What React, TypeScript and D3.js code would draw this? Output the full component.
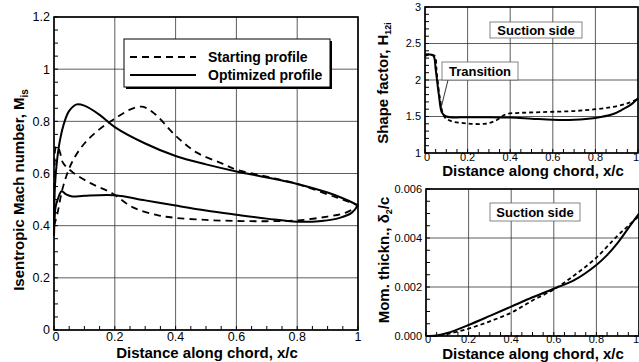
import React from "react";
import * as d3 from "d3";

type Pt = [number, number];

// axis ticks
const xTicks = [0, 0.2, 0.4, 0.6, 0.8, 1];
const xTickLabels = ["0", "0.2", "0.4", "0.6", "0.8", "1"];
const machTicks = [0, 0.2, 0.4, 0.6, 0.8, 1, 1.2];
const machTickLabels = ["0", "0.2", "0.4", "0.6", "0.8", "1", "1.2"];
const shapeTicks = [1, 1.5, 2, 2.5, 3];
const shapeTickLabels = ["1", "1.5", "2", "2.5", "3"];
const thetaTicks = [0, 0.002, 0.004, 0.006];
const thetaTickLabels = ["0.000", "0.002", "0.004", "0.006"];
const legendLabels = ["Starting profile", "Optimized profile"];

// isentropic Mach number, optimized profile (solid)
const optSuction: Pt[] = [
  [0, 0.36], [0.003, 0.55], [0.01, 0.65], [0.02, 0.73], [0.035, 0.8], [0.05, 0.84],
  [0.075, 0.865], [0.1, 0.86], [0.15, 0.825], [0.2, 0.778], [0.3, 0.715], [0.4, 0.667],
  [0.5, 0.635], [0.6, 0.608], [0.7, 0.585], [0.8, 0.56], [0.9, 0.527], [0.95, 0.505], [1.0, 0.478],
];
const optPressure: Pt[] = [
  [0, 0.36], [0.005, 0.47], [0.012, 0.5], [0.025, 0.532], [0.04, 0.52], [0.06, 0.512],
  [0.1, 0.515], [0.2, 0.517], [0.3, 0.497], [0.4, 0.477], [0.5, 0.458], [0.6, 0.442],
  [0.7, 0.427], [0.8, 0.415], [0.88, 0.418], [0.94, 0.43], [0.98, 0.45], [1.0, 0.478],
];
// isentropic Mach number, starting profile (dashed)
const startSuction: Pt[] = [
  [0, 0.4], [0.01, 0.44], [0.03, 0.55], [0.06, 0.645], [0.1, 0.715], [0.15, 0.77],
  [0.2, 0.81], [0.25, 0.845], [0.29, 0.856], [0.33, 0.83], [0.4, 0.745], [0.47, 0.68],
  [0.55, 0.64], [0.6, 0.615], [0.7, 0.588], [0.8, 0.56], [0.9, 0.52], [0.95, 0.5], [1.0, 0.478],
];
const startPressure: Pt[] = [
  [0, 0.4], [0.002, 0.6], [0.006, 0.7], [0.012, 0.705], [0.02, 0.68], [0.03, 0.64],
  [0.06, 0.606], [0.12, 0.563], [0.19, 0.525], [0.26, 0.47], [0.34, 0.44], [0.4, 0.43],
  [0.5, 0.422], [0.6, 0.418], [0.7, 0.417], [0.8, 0.42], [0.9, 0.435], [0.96, 0.45], [1.0, 0.475],
];

// shape factor H12i, suction side
const optShape: Pt[] = [
  [0, 2.35], [0.02, 2.35], [0.04, 2.33], [0.05, 2.15], [0.065, 1.8], [0.08, 1.55],
  [0.1, 1.5], [0.2, 1.49], [0.3, 1.49], [0.4, 1.485], [0.5, 1.47], [0.6, 1.455],
  [0.7, 1.455], [0.8, 1.48], [0.88, 1.53], [0.93, 1.6], [0.97, 1.67], [1.0, 1.75],
];
const startShape: Pt[] = [
  [0, 2.33], [0.02, 2.35], [0.045, 2.33], [0.055, 2.1], [0.07, 1.75], [0.09, 1.5],
  [0.12, 1.44], [0.2, 1.405], [0.28, 1.4], [0.33, 1.44], [0.38, 1.53], [0.45, 1.55],
  [0.55, 1.56], [0.7, 1.575], [0.8, 1.6], [0.88, 1.63], [0.95, 1.68], [1.0, 1.74],
];

// momentum thickness, suction side
const optTheta: Pt[] = [
  [0, 0], [0.05, 0.00002], [0.1, 0.00012], [0.2, 0.00045], [0.3, 0.00082], [0.4, 0.0012],
  [0.5, 0.00158], [0.6, 0.00193], [0.7, 0.0023], [0.8, 0.0029], [0.85, 0.0033],
  [0.9, 0.0038], [0.95, 0.0044], [1, 0.005],
];
const startTheta: Pt[] = [
  [0, 0], [0.05, 0.00001], [0.1, 0.00008], [0.2, 0.0003], [0.3, 0.0006], [0.4, 0.00095],
  [0.5, 0.00145], [0.6, 0.0019], [0.7, 0.0025], [0.8, 0.0032], [0.9, 0.0041],
  [0.95, 0.0045], [1, 0.0049],
];

const FONT = "'Liberation Sans', Arial, Helvetica, sans-serif";

type Series = { data: Pt[]; dashed: boolean };

type PanelProps = {
  left: number;
  right: number;
  top: number;
  bottom: number;
  yDomain: [number, number];
  yTicks: number[];
  yLabels: string[];
  yMinor: number;
  tickSize: number;
  xLabelY: number;
  lastAtEdge?: boolean;
  series: Series[];
  dash: string;
  children?: React.ReactNode;
};

function Panel(p: PanelProps) {
  const x = d3.scaleLinear().domain([0, 1]).range([p.left, p.right]);
  const y = d3.scaleLinear().domain(p.yDomain).range([p.bottom, p.top]);
  const line = d3
    .line<Pt>()
    .x((d) => x(d[0]))
    .y((d) => y(d[1]))
    .curve(d3.curveCatmullRom.alpha(0.5));

  const xMinor = d3.range(0, 1.0001, 0.05);
  const yMinor = d3.range(p.yDomain[0], p.yDomain[1] + 1e-9, p.yMinor);

  return (
    <g>
      {/* grid */}
      {xTicks.map((t, i) => (
        <line key={"gx" + i} x1={x(t)} x2={x(t)} y1={p.top} y2={p.bottom} stroke="#333" strokeWidth={0.8} />
      ))}
      {p.yTicks.map((t, i) => (
        <line key={"gy" + i} x1={p.left} x2={p.right} y1={y(t)} y2={y(t)} stroke="#333" strokeWidth={0.8} />
      ))}
      {/* minor ticks */}
      {xMinor.map((t, i) => (
        <line key={"mx" + i} x1={x(t)} x2={x(t)} y1={p.bottom} y2={p.bottom - 4} stroke="#000" strokeWidth={1} />
      ))}
      {yMinor.map((t, i) => (
        <line key={"my" + i} x1={p.left} x2={p.left + 4} y1={y(t)} y2={y(t)} stroke="#000" strokeWidth={1} />
      ))}
      {/* curves */}
      {p.series.map((s, i) => (
        <path
          key={"s" + i}
          d={line(s.data) ?? ""}
          fill="none"
          stroke="#000"
          strokeWidth={s.dashed ? 1.8 : 2}
          strokeDasharray={s.dashed ? p.dash : undefined}
        />
      ))}
      {p.children}
      {/* frame */}
      <rect x={p.left} y={p.top} width={p.right - p.left} height={p.bottom - p.top} fill="none" stroke="#000" strokeWidth={1.6} />
      {/* tick labels */}
      {xTicks.map((t, i) => {
        const last = p.lastAtEdge && i === xTicks.length - 1;
        return (
          <text
            key={"lx" + i}
            x={last ? 639 : x(t) + (i === 0 ? 2 : 0)}
            y={p.xLabelY}
            textAnchor={last ? "end" : "middle"}
            fontSize={p.tickSize}
            fontFamily={FONT}
          >
            {xTickLabels[i]}
          </text>
        );
      })}
      {p.yTicks.map((t, i) => (
        <text key={"ly" + i} x={p.left - 4} y={y(t)} dy="0.35em" textAnchor="end" fontSize={p.tickSize} fontFamily={FONT}>
          {p.yLabels[i]}
        </text>
      ))}
    </g>
  );
}

export default function App() {
  const title = { fontFamily: FONT, fontWeight: 700, fontSize: 15 } as const;
  return (
    <svg width={639} height={362} style={{ position: "fixed", left: 0, top: 0, background: "#fff" }}>
      <rect width={639} height={362} fill="#fff" />

      {/* main: isentropic Mach number */}
      <Panel
        left={54}
        right={358}
        top={17}
        bottom={330}
        yDomain={[0, 1.2]}
        yTicks={machTicks}
        yLabels={machTickLabels}
        yMinor={0.05}
        tickSize={12.5}
        xLabelY={341}
        dash="7,5"
        series={[
          { data: startSuction, dashed: true },
          { data: startPressure, dashed: true },
          { data: optSuction, dashed: false },
          { data: optPressure, dashed: false },
        ]}
      >
        <g>
          <rect x={126} y={41} width={206} height={48} fill="#000" />
          <rect x={124} y={39} width={206} height={48} fill="#fff" stroke="#000" strokeWidth={1} />
          <line x1={130} x2={196} y1={57} y2={57} stroke="#000" strokeWidth={1.8} strokeDasharray="7,5" />
          <line x1={130} x2={196} y1={75} y2={75} stroke="#000" strokeWidth={2} />
          <text x={208} y={62} fontSize={14} fontWeight={700} fontFamily={FONT}>{legendLabels[0]}</text>
          <text x={208} y={80} fontSize={14} fontWeight={700} fontFamily={FONT}>{legendLabels[1]}</text>
        </g>
      </Panel>
      <text x={207} y={358} textAnchor="middle" {...title}>Distance along chord, x/c</text>
      <text transform="translate(24,190) rotate(-90)" textAnchor="middle" {...title}>
        Isentropic Mach number, M<tspan fontSize={10} dy={4}>is</tspan>
      </text>

      {/* top right: shape factor */}
      <Panel
        left={425}
        right={638}
        top={7}
        bottom={153}
        yDomain={[1, 3]}
        yTicks={shapeTicks}
        yLabels={shapeTickLabels}
        yMinor={0.1}
        tickSize={11}
        xLabelY={161}
        lastAtEdge
        dash="4,3"
        series={[
          { data: startShape, dashed: true },
          { data: optShape, dashed: false },
        ]}
      >
        <g>
          <rect x={490} y={22} width={92} height={16} fill="#fff" stroke="#666" strokeWidth={0.8} />
          <text x={536} y={35} textAnchor="middle" fontSize={13} fontWeight={700} fontFamily={FONT}>Suction side</text>
          <line x1={448} y1={80} x2={441} y2={108} stroke="#000" strokeWidth={0.8} />
          <rect x={442} y={62} width={76} height={18} fill="#fff" stroke="#666" strokeWidth={0.8} />
          <text x={480} y={76} textAnchor="middle" fontSize={13} fontWeight={700} fontFamily={FONT}>Transition</text>
        </g>
      </Panel>
      <text x={533} y={176} textAnchor="middle" {...title}>Distance along chord, x/c</text>
      <text transform="translate(388,83) rotate(-90)" textAnchor="middle" {...title}>
        Shape factor, H<tspan fontSize={9} dy={3}>12i</tspan>
      </text>

      {/* bottom right: momentum thickness */}
      <Panel
        left={426}
        right={639}
        top={189}
        bottom={336}
        yDomain={[0, 0.006]}
        yTicks={thetaTicks}
        yLabels={thetaTickLabels}
        yMinor={0.0005}
        tickSize={11}
        xLabelY={343}
        lastAtEdge
        dash="4,3"
        series={[
          { data: startTheta, dashed: true },
          { data: optTheta, dashed: false },
        ]}
      >
        <g>
          <rect x={490} y={203} width={90} height={18} fill="#fff" stroke="#666" strokeWidth={0.8} />
          <text x={535} y={217} textAnchor="middle" fontSize={13} fontWeight={700} fontFamily={FONT}>Suction side</text>
        </g>
      </Panel>
      <text x={533} y={359} textAnchor="middle" {...title}>Distance along chord, x/c</text>
      <text transform="translate(389,260) rotate(-90)" textAnchor="middle" {...title}>
        Mom. thickn., δ<tspan fontSize={9} dy={3}>2</tspan><tspan dy={-3}>/c</tspan>
      </text>
    </svg>
  );
}
